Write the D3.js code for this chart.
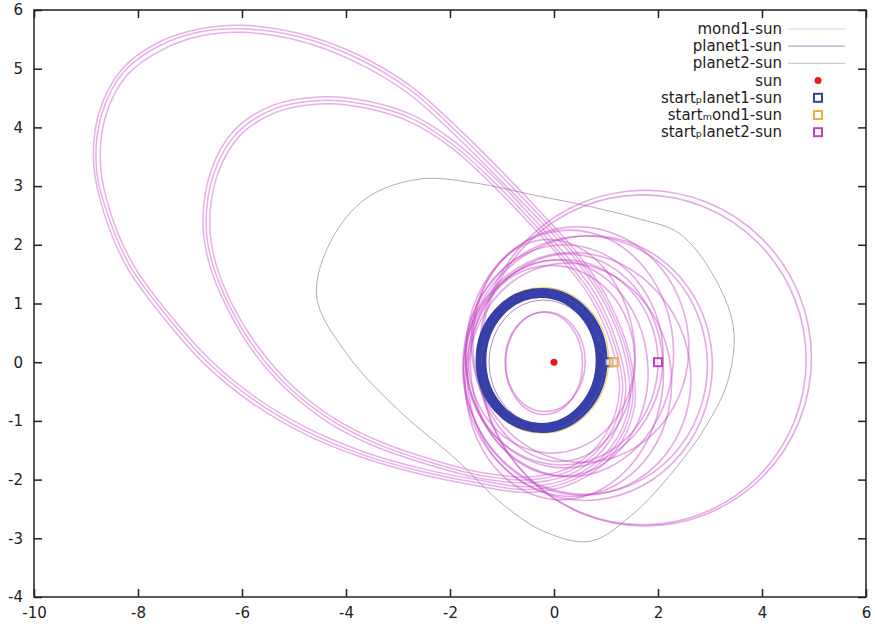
<!DOCTYPE html>
<html>
<head>
<meta charset="utf-8">
<script src="https://cdn.jsdelivr.net/npm/d3@7"></script>
<style>
  body { margin: 0; background: #fff; }
  svg text { font-family: "DejaVu Sans", sans-serif; fill: #222; }
</style>
</head>
<body>
<div id="chart"></div>
<script>
// axis ticks
const xTicks = [-10, -8, -6, -4, -2, 0, 2, 4, 6];
const yTicks = [-4, -3, -2, -1, 0, 1, 2, 3, 4, 5, 6];

// planet2: the wide outer loops, traced as points off the picture
const planet2LoopA1 = [[-8.85,3.35],[-8.75,4.25],[-8.3,5.0],[-7.6,5.45],[-6.8,5.68],[-6.0,5.74],[-4.9,5.6],[-3.8,5.25],[-2.75,4.7],[-1.8,3.95],[-0.95,3.2],[-0.2,2.5],[0.5,1.8],[1.05,1.05],[1.45,0.15],[1.55,-0.75],[1.15,-1.55],[0.4,-2.05],[-0.5,-2.22],[-1.5,-2.1],[-2.6,-1.9],[-3.7,-1.62],[-4.8,-1.22],[-5.8,-0.7],[-6.7,-0.05],[-7.5,0.75],[-8.2,1.6],[-8.62,2.45]];
const planet2LoopA2 = [[-8.72,3.35],[-8.62,4.2],[-8.2,4.9],[-7.52,5.33],[-6.78,5.56],[-6.0,5.62],[-4.92,5.48],[-3.85,5.13],[-2.82,4.59],[-1.88,3.85],[-1.03,3.1],[-0.28,2.42],[0.42,1.74],[0.97,1.01],[1.36,0.13],[1.45,-0.72],[1.07,-1.48],[0.37,-1.95],[-0.5,-2.12],[-1.5,-2.0],[-2.6,-1.8],[-3.68,-1.52],[-4.75,-1.12],[-5.72,-0.61],[-6.6,0.03],[-7.38,0.8],[-8.07,1.63],[-8.5,2.47]];
const planet2LoopA3 = [[-8.8,3.3],[-8.7,4.22],[-8.26,4.96],[-7.57,5.4],[-6.8,5.63],[-6.02,5.68],[-4.92,5.55],[-3.83,5.2],[-2.78,4.65],[-1.84,3.9],[-0.99,3.15],[-0.24,2.46],[0.46,1.77],[1.01,1.03],[1.41,0.14],[1.5,-0.74],[1.1,-1.52],[0.38,-2.0],[-0.5,-2.17],[-1.5,-2.05],[-2.6,-1.85],[-3.7,-1.57],[-4.78,-1.17],[-5.76,-0.65],[-6.65,-0.01],[-7.44,0.78],[-8.14,1.62],[-8.56,2.46]];
const planet2LoopB1 = [[-6.75,2.35],[-6.6,3.25],[-6.15,3.95],[-5.4,4.38],[-4.5,4.52],[-3.6,4.45],[-2.7,4.2],[-1.9,3.75],[-1.15,3.15],[-0.45,2.5],[0.2,1.85],[0.8,1.15],[1.2,0.35],[1.38,-0.5],[1.1,-1.3],[0.45,-1.85],[-0.4,-2.05],[-1.4,-1.98],[-2.4,-1.75],[-3.4,-1.45],[-4.3,-1.05],[-5.1,-0.5],[-5.8,0.2],[-6.3,0.95],[-6.62,1.65]];
const planet2LoopB2 = [[-6.62,2.35],[-6.47,3.2],[-6.04,3.86],[-5.34,4.26],[-4.5,4.4],[-3.62,4.33],[-2.76,4.09],[-1.98,3.66],[-1.24,3.07],[-0.54,2.43],[0.11,1.79],[0.7,1.1],[1.09,0.33],[1.26,-0.48],[1.0,-1.22],[0.4,-1.75],[-0.4,-1.95],[-1.4,-1.88],[-2.38,-1.65],[-3.35,-1.35],[-4.22,-0.96],[-5.0,-0.43],[-5.68,0.25],[-6.18,0.97],[-6.5,1.67]];
const planet2LoopB3 = [[-6.69,2.3],[-6.54,3.22],[-6.1,3.9],[-5.37,4.32],[-4.5,4.46],[-3.61,4.39],[-2.73,4.15],[-1.94,3.7],[-1.2,3.11],[-0.5,2.47],[0.15,1.82],[0.75,1.12],[1.15,0.34],[1.32,-0.49],[1.05,-1.26],[0.42,-1.8],[-0.4,-2.0],[-1.4,-1.93],[-2.39,-1.7],[-3.38,-1.4],[-4.26,-1.0],[-5.05,-0.47],[-5.74,0.22],[-6.24,0.96],[-6.56,1.66]];
const planet2LoopC = [[-4.56,1.1],[-4.3,2.05],[-3.6,2.8],[-2.58,3.12],[-1.5,3.05],[-0.4,2.85],[0.7,2.65],[1.6,2.45],[2.4,2.2],[3.05,1.5],[3.45,0.6],[3.35,-0.3],[2.95,-1.05],[2.3,-1.85],[1.5,-2.6],[0.7,-3.05],[-0.2,-2.88],[-1.04,-2.38],[-1.85,-1.68],[-2.95,-0.85],[-3.95,0.1]];

// planet2: the rounder loops near the sun, as ellipses [cx, cy, rx, ry, rotation deg]
const planet2Loops = [
  [1.75, 0.07, 3.20, 2.86, 0],
  [1.71, 0.04, 3.14, 2.81, 0],
  [0.15, 0.00, 1.85, 1.75, 0],
  [0.20, 0.10, 1.90, 1.90, 0],
  [0.30, 0.15, 2.00, 2.10, 0],
  [0.10, -0.10, 1.70, 1.85, 15],
  [0.45, -0.20, 2.20, 2.05, -20],
  [0.60, -0.05, 2.35, 2.20, 0],
  [0.65, -0.10, 2.40, 2.25, 10],
  [0.00, 0.20, 1.55, 1.90, 10],
  [0.30, -0.30, 1.95, 2.00, 30],
  [-0.05, 0.05, 1.60, 1.60, 0],
  [0.50, 0.30, 2.10, 2.00, -15],
  [0.20, -0.25, 1.90, 2.10, -10],
  [-0.19, -0.02, 0.74, 0.87, 0],
  [-0.17, 0.01, 0.77, 0.85, 0]
];
const planet2Thin = [
  [-0.20, 0.00, 1.05, 1.06, 0]
];
const planet1Loops = [
  [-0.25, 0.03, 1.08, 1.09, 0],
  [-0.25, 0.03, 1.12, 1.12, 0],
  [-0.26, 0.03, 1.16, 1.15, 0],
  [-0.25, 0.04, 1.20, 1.18, 0],
  [-0.24, 0.03, 1.24, 1.21, 0]
];
const mond1Loops = [
  [-0.22, 0.03, 1.27, 1.24, 0]
];

const sunPos = [0, 0];
const startPlanet1 = [1.05, 0];
const startMond1 = [1.15, 0];
const startPlanet2 = [2.0, 0];

// gnuplot enhanced text turned the "_p" / "_m" into subscripts
const legendNames = ["mond1-sun", "planet1-sun", "planet2-sun", "sun",
  "start\u209Alanet1-sun", "start\u2098ond1-sun", "start\u209Alanet2-sun"];

const W = 875, H = 626;
const svg = d3.select("#chart").append("svg").attr("width", W).attr("height", H);

const x = d3.scaleLinear().domain([-10, 6]).range([34, 866]);
const y = d3.scaleLinear().domain([-4, 6]).range([597, 10]);

svg.append("clipPath").attr("id", "plot")
  .append("rect")
  .attr("x", x(-10)).attr("y", y(6))
  .attr("width", x(6) - x(-10)).attr("height", y(-4) - y(6));

const plotG = svg.append("g").attr("clip-path", "url(#plot)");

// traced loops go through the scales with a closed smooth curve
const loopLine = d3.line()
  .x(d => x(d[0])).y(d => y(d[1]))
  .curve(d3.curveCatmullRomClosed.alpha(0.5));

function drawTraced(list, color, width, opacity) {
  plotG.append("g").selectAll("path")
    .data(list)
    .enter().append("path")
    .attr("d", loopLine)
    .attr("fill", "none")
    .attr("stroke", color)
    .attr("stroke-width", width)
    .attr("stroke-opacity", opacity);
}

// ellipses live in data units inside a group mapped by the scales
const kx = x(1) - x(0), ky = y(0) - y(1);
const orbitG = plotG.append("g")
  .attr("transform", "translate(" + x(0) + "," + y(0) + ") scale(" + kx + "," + (-ky) + ")");

function drawLoops(list, color, width, opacity) {
  orbitG.append("g").selectAll("ellipse")
    .data(list)
    .enter().append("ellipse")
    .attr("cx", d => d[0]).attr("cy", d => d[1])
    .attr("rx", d => d[2]).attr("ry", d => d[3])
    .attr("transform", d => "rotate(" + d[4] + "," + d[0] + "," + d[1] + ")")
    .attr("fill", "none")
    .attr("stroke", color)
    .attr("stroke-width", width)
    .attr("stroke-opacity", opacity)
    .attr("vector-effect", "non-scaling-stroke");
}

drawTraced([planet2LoopA1, planet2LoopA2, planet2LoopA3,
  planet2LoopB1, planet2LoopB2, planet2LoopB3], "#c542c5", 1.5, 0.42);
drawTraced([planet2LoopC], "#8a5a92", 1, 0.55);
drawLoops(planet2Loops, "#c542c5", 1.6, 0.45);
drawLoops(planet2Thin, "#7a3a9a", 1, 0.6);
drawLoops(mond1Loops, "#e8c840", 1.2, 0.8);
drawLoops(planet1Loops, "#3640a8", 3, 1);

// axes: ticks point inward on all four sides
const gx = svg.append("g").attr("transform", "translate(0," + y(-4) + ")")
  .call(d3.axisBottom(x).tickValues(xTicks).tickFormat(d => String(d))
    .tickSizeInner(-8).tickSizeOuter(0).tickPadding(10));
const gy = svg.append("g").attr("transform", "translate(" + x(-10) + ",0)")
  .call(d3.axisLeft(y).tickValues(yTicks).tickFormat(d => String(d))
    .tickSizeInner(-8).tickSizeOuter(0).tickPadding(11));
const gt = svg.append("g").attr("transform", "translate(0," + y(6) + ")")
  .call(d3.axisTop(x).tickValues(xTicks).tickSizeInner(-8).tickSizeOuter(0).tickFormat(""));
const gr = svg.append("g").attr("transform", "translate(" + x(6) + ",0)")
  .call(d3.axisRight(y).tickValues(yTicks).tickSizeInner(-8).tickSizeOuter(0).tickFormat(""));

[gx, gy, gt, gr].forEach(g => {
  g.select(".domain").remove();
  g.selectAll(".tick line").attr("stroke", "#222").attr("stroke-width", 1.5);
  g.selectAll(".tick text").attr("font-size", 15).attr("fill", "#222")
    .style("font-family", "'DejaVu Sans', sans-serif");
});

svg.append("rect")
  .attr("x", x(-10)).attr("y", y(6))
  .attr("width", x(6) - x(-10)).attr("height", y(-4) - y(6))
  .attr("fill", "none").attr("stroke", "#222").attr("stroke-width", 1.5);

// markers
function square(g, p, color) {
  g.append("rect")
    .attr("x", x(p[0]) - 4).attr("y", y(p[1]) - 4)
    .attr("width", 8).attr("height", 8)
    .attr("fill", "#fff").attr("fill-opacity", 0.6)
    .attr("stroke", color).attr("stroke-width", 2);
}
const markG = svg.append("g");
markG.append("circle").attr("cx", x(sunPos[0])).attr("cy", y(sunPos[1])).attr("r", 3.5).attr("fill", "#e01c1c");
square(markG, startPlanet1, "#3640a8");
square(markG, startMond1, "#f0b040");
square(markG, startPlanet2, "#c040c0");

// legend
const lineColors = ["#dcd8c4", "#aab0c8", "#d4c8d4"];
const rowY = i => 29 + 17.2 * i;
const leg = svg.append("g");
leg.selectAll("text")
  .data(legendNames)
  .enter().append("text")
  .attr("x", 782).attr("y", (d, i) => rowY(i) + 5)
  .attr("text-anchor", "end").attr("font-size", 15)
  .text(d => d);
lineColors.forEach((c, i) => {
  leg.append("line")
    .attr("x1", 788).attr("x2", 845)
    .attr("y1", rowY(i)).attr("y2", rowY(i))
    .attr("stroke", c).attr("stroke-width", 1.2);
});
leg.append("circle").attr("cx", 818).attr("cy", rowY(3)).attr("r", 3.5).attr("fill", "#e01c1c");
["#3640a8", "#f0b040", "#c040c0"].forEach((c, i) => {
  leg.append("rect")
    .attr("x", 814).attr("y", rowY(4 + i) - 4)
    .attr("width", 8).attr("height", 8)
    .attr("fill", "#fff").attr("stroke", c).attr("stroke-width", 2);
});
</script>
</body>
</html>
